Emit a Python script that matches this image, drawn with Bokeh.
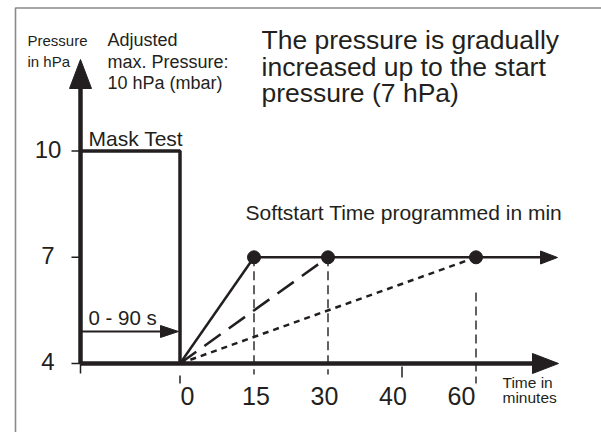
from bokeh.plotting import figure
from bokeh.models import Range1d
from bokeh.core.properties import value
from bokeh.embed import file_html
from bokeh.resources import INLINE

# ---- data ----
time_ticks = [0, 15, 30, 40, 60]          # x-axis tick labels (minutes)
pressure_ticks = [4, 7, 10]               # y-axis tick labels (hPa)
softstart_times = [15, 30, 60]            # programmed softstart times (min)
base_pressure = 4
start_pressure = 7
mask_pressure = 10
title_lines = ["The pressure is gradually", "increased up to the start", "pressure (7 hPa)"]
adjusted_lines = ["Adjusted", "max. Pressure:", "10 hPa (mbar)"]
ylabel_lines = ["Pressure", "in hPa"]
xlabel_lines = ["Time in", "minutes"]

# ---- styles ----
ramp_dashes = ["solid", "20 10", "6 5"]
INK = "#231f20"
FONT = value("Liberation Sans")

# ---- layout (pixel helpers) ----
W, H = 601, 432
ORG = 0                  # page px where the figure starts
X0, U = 179.5, 74.0      # page px of time index 0, px per index step
Y4, V = 363.0, 35.4      # page px of 4 hPa, px per hPa


def px(xp):
    return (xp - X0) / U


def py(yp):
    return base_pressure + (Y4 - yp) / V


def tpos(t):
    return time_ticks.index(t)


p = figure(width=W, height=H, output_backend="svg", toolbar_location=None,
           x_range=Range1d(px(ORG), px(ORG + W)), y_range=Range1d(py(ORG + H), py(ORG)),
           min_border=0, outline_line_color=None)
p.axis.visible = False
p.grid.visible = False
p.background_fill_color = "white"
p.border_fill_color = "white"


def label(xs, ys, texts, size, align="left"):
    p.text(x=xs, y=ys, text=texts, text_font=FONT, text_font_size=f"{size}px",
           text_align=align, text_baseline="alphabetic", text_color=INK,
           y_offset=-0.3 * size)


# frame (top + left)
p.line([px(15), px(15), px(601)], [py(432), py(7.5), py(7.5)], line_color="#8a8a8a", line_width=1.6)

YAX = px(80)

# y axis with arrow
p.line([YAX, YAX], [base_pressure, py(86)], line_color=INK, line_width=4.5)
p.patch([YAX - 11 / U, YAX + 11 / U, YAX], [py(88), py(88), py(59)], color=INK)
# y ticks
for v in pressure_ticks:
    p.line([px(71), YAX], [v, v], line_color=INK, line_width=1.5)
p.text(x=[px(47.5)] * len(pressure_ticks), y=pressure_ticks, text=[str(v) for v in pressure_ticks],
       text_font=FONT, text_font_size="24px", text_align="center", text_baseline="middle",
       text_color=INK, y_offset=-2)

# x axis with arrow
p.line([YAX, px(535)], [base_pressure, base_pressure], line_color=INK, line_width=4.5)
p.patch([px(532), px(532), px(558)], [py(353), py(373), py(363)], color=INK)
# small ticks under x axis
p.line([YAX, YAX], [base_pressure, py(373)], line_color=INK, line_width=1.5)
p.line([tpos(0), tpos(0)], [py(375), py(383)], line_color=INK, line_width=1.5)
p.line([tpos(40), tpos(40)], [py(366), py(377)], line_color=INK, line_width=1.5)
# x tick labels
lab_x = [px(187 + 68.5 * i) for i in range(len(time_ticks))]
label(lab_x, [py(403)] * len(time_ticks), [str(t) for t in time_ticks], 25, align="center")

# mask test box
p.line([YAX, tpos(0), tpos(0)], [mask_pressure, mask_pressure, base_pressure], line_color=INK, line_width=3.5)
label([px(88)], [py(144)], ["Mask Test"], 21)

# 0 - 90 s arrow
p.line([YAX, px(162)], [py(331), py(331)], line_color=INK, line_width=2)
p.patch([px(160), px(160), px(178)], [py(325), py(337), py(331)], color=INK)
label([px(88)], [py(323)], ["0 - 90 s"], 20.5)

# start pressure line with arrow
p.line([tpos(softstart_times[0]), px(542)], [start_pressure, start_pressure], line_color=INK, line_width=2.5)
p.patch([px(540), px(540), px(557)], [py(250.5), py(263.5), py(257)], color=INK)

# ramps
for t, d in zip(softstart_times, ramp_dashes):
    p.line([tpos(0), tpos(t)], [base_pressure, start_pressure], line_color=INK, line_width=2.5, line_dash=d)

# vertical dashed guides
for t in softstart_times:
    top = start_pressure if t != softstart_times[-1] else py(292)
    bot = py(374) if t != softstart_times[-1] else py(383)
    p.line([tpos(t), tpos(t)], [top, bot], line_color=INK, line_width=1.4, line_dash="9 5")

# dots
p.scatter([tpos(t) for t in softstart_times], [start_pressure] * len(softstart_times),
          size=13, color=INK)

label([px(245)], [py(218)], ["Softstart Time programmed in min"], 21)

# labels
label([px(27)] * 2, [py(44), py(65)], ylabel_lines, 15)
label([px(107)] * 3, [py(45), py(67), py(88)], adjusted_lines, 18)
label([px(261)] * 3, [py(47), py(74), py(100)], title_lines, 26.5)
label([px(502)] * 2, [py(387), py(402)], xlabel_lines, 15.5)

open("out.html", "w").write(file_html(p, INLINE))
